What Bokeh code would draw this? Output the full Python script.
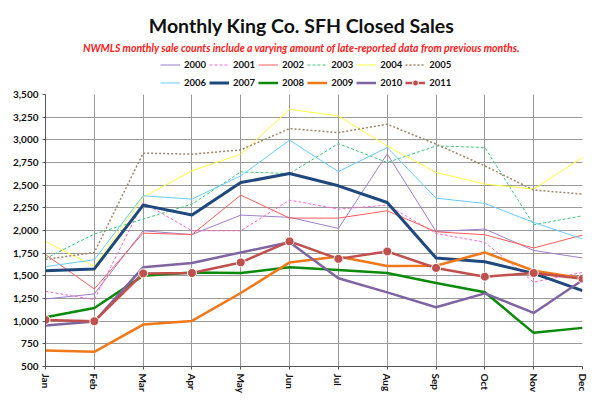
from bokeh.plotting import figure
from bokeh.layouts import column
from bokeh.models import Range1d, FixedTicker, NumeralTickFormatter, Legend, LegendItem, Label
from bokeh.embed import file_html
from bokeh.resources import INLINE

months = ["Jan", "Feb", "Mar", "Apr", "May", "Jun", "Jul", "Aug", "Sep", "Oct", "Nov", "Dec"]
years = ["2000", "2001", "2002", "2003", "2004", "2005", "2006", "2007", "2008", "2009", "2010", "2011"]

s2000 = [1245, 1300, 1997, 1955, 2170, 2145, 2023, 2845, 1990, 2016, 1780, 1697]
s2001 = [1329, 1238, 2309, 1997, 1997, 2335, 2236, 2280, 1968, 1869, 1430, 1538]
s2002 = [1735, 1355, 1971, 1955, 2390, 2137, 2137, 2218, 1986, 1953, 1807, 1950]
s2003 = [1690, 1961, 2126, 2291, 2646, 2628, 2958, 2750, 2933, 2915, 2063, 2162]
s2004 = [1880, 1604, 2368, 2658, 2842, 3337, 3263, 2933, 2640, 2512, 2457, 2805]
s2005 = [1680, 1758, 2853, 2842, 2889, 3124, 3080, 3172, 2952, 2713, 2446, 2402]
s2006 = [1601, 1678, 2383, 2346, 2603, 2996, 2650, 2915, 2357, 2298, 2089, 1906]
s2007 = [1557, 1576, 2280, 2170, 2529, 2628, 2493, 2309, 1697, 1656, 1527, 1337]
s2008 = [1043, 1146, 1502, 1538, 1531, 1594, 1565, 1531, 1421, 1318, 871, 926]
s2009 = [676, 662, 962, 1003, 1311, 1648, 1714, 1608, 1612, 1758, 1557, 1474]
s2010 = [951, 995, 1594, 1642, 1758, 1870, 1474, 1318, 1153, 1307, 1091, 1452]
s2011 = [1014, 999, 1527, 1531, 1648, 1880, 1687, 1769, 1587, 1491, 1531, 1468]

series = [s2000, s2001, s2002, s2003, s2004, s2005, s2006, s2007, s2008, s2009, s2010, s2011]

colors = ["#9E7FCC", "#FF66CC", "#FF5A5A", "#3CC878", "#FFFF40", "#A08466", "#66CCFF",
          "#1F497D", "#0A8A0A", "#F07818", "#8064A2", "#C0504D"]
widths = [1, 1, 1, 1, 1, 1.5, 1, 3, 2.5, 2.5, 2.5, 2.5]
dashes = ["solid", "3 2", "solid", "3 2", "solid", "2 2", "solid",
          "solid", "solid", "solid", "solid", "solid"]

xs = list(range(len(months)))
font = "Lato"

# ---------- header (titles + legend); its frame is aligned with the chart frame ----------
head = figure(width=600, height=88, output_backend="svg", toolbar_location=None,
              x_range=Range1d(0, 11), y_range=Range1d(-20, -10),
              min_border_left=45, min_border_right=18, min_border_top=0, min_border_bottom=0)
head.axis.visible = False
head.grid.visible = False
head.outline_line_color = None
head.background_fill_color = "white"
head.border_fill_color = "white"

items = []
for yr, data, c, w, d in zip(years, series, colors, widths, dashes):
    r = head.line(xs, data, line_color=c, line_width=w, line_dash=d)
    rends = [r]
    if yr == "2011":
        m = head.scatter(xs, data, size=8, fill_color=c, line_color="white", line_width=1)
        rends.append(m)
    items.append(LegendItem(label=yr, renderers=rends))

legend = Legend(items=items, orientation="horizontal", ncols=6, location=(115, -2),
                padding=0, margin=0, spacing=3, glyph_width=20, glyph_height=15,
                label_height=15, label_standoff=4, border_line_color=None,
                background_fill_alpha=0, label_text_font=font, label_text_font_style="bold",
                label_text_font_size="9.5px", label_text_color="#111111")
head.add_layout(legend, "center")

head.add_layout(Label(x=256, y=63, x_units="screen", y_units="screen",
                      text="Monthly King Co. SFH Closed Sales", text_align="center",
                      text_baseline="middle", text_font=font, text_font_size="19.5px",
                      text_font_style="bold", text_color="#111111"))
head.add_layout(Label(x=256, y=41, x_units="screen", y_units="screen",
                      text="NWMLS monthly sale counts include a varying amount of late-reported data from previous months.",
                      text_align="center", text_baseline="middle", text_font=font,
                      text_font_size="10.5px", text_font_style="bold italic", text_color="#FF1A1A"))

# ---------- main chart ----------
p = figure(width=600, height=321, output_backend="svg", toolbar_location=None,
           x_range=Range1d(0, 11), y_range=Range1d(500, 3500),
           min_border_left=45, min_border_right=18, min_border_top=6, min_border_bottom=43)
p.outline_line_color = None
p.background_fill_color = "white"
p.border_fill_color = "white"

p.xaxis.ticker = FixedTicker(ticks=xs)
p.xaxis.major_label_overrides = {i: m for i, m in enumerate(months)}
p.xaxis.major_label_orientation = "vertical"
p.yaxis.ticker = FixedTicker(ticks=list(range(500, 3501, 250)))
p.yaxis.formatter = NumeralTickFormatter(format="0,0")
for ax in (p.xaxis, p.yaxis):
    ax.major_label_text_font = font
    ax.major_label_text_font_style = "bold"
    ax.major_label_text_font_size = "10px"
    ax.major_label_text_color = "#111111"
    ax.axis_line_color = "#555555"
    ax.major_tick_line_color = "#555555"
    ax.major_tick_out = 3
    ax.major_tick_in = 0
    ax.minor_tick_line_color = None
    ax.major_label_standoff = 4
p.xgrid.grid_line_color = "#9a9a9a"
p.ygrid.grid_line_color = "#9a9a9a"
p.xgrid.ticker = FixedTicker(ticks=xs)
p.ygrid.ticker = FixedTicker(ticks=list(range(500, 3501, 250)))

for yr, data, c, w, d in zip(years, series, colors, widths, dashes):
    p.line(xs, data, line_color=c, line_width=w, line_dash=d)
    if yr == "2011":
        p.scatter(xs, data, size=9, fill_color=c, line_color="white", line_width=1)

layout = column(head, p, spacing=0)
open("out.html", "w").write(file_html(layout, INLINE))
